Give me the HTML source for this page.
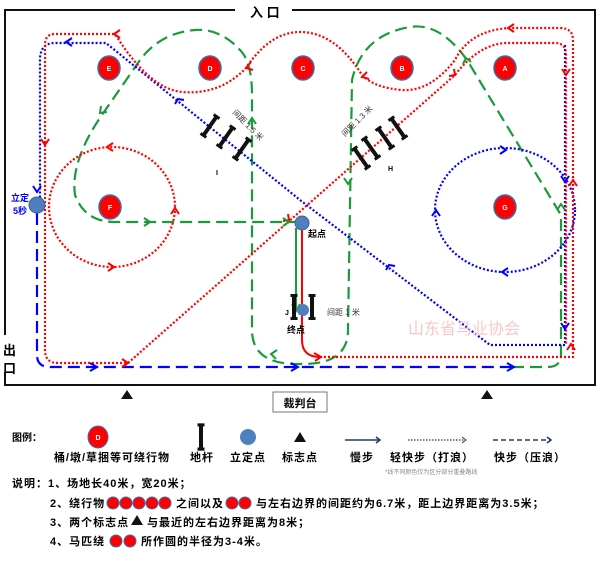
<!DOCTYPE html>
<html><head><meta charset="utf-8"><style>
body{margin:0;background:#fff;width:600px;height:558px;overflow:hidden}
svg text{font-family:"Liberation Sans","Noto Sans CJK SC",sans-serif}
</style></head><body>
<svg width="600" height="558" viewBox="0 0 600 558" xmlns="http://www.w3.org/2000/svg">
<defs>
<g id="pole"><rect x="-2" y="-11" width="4" height="22" fill="#111"/><rect x="-3.5" y="-13" width="7" height="3" fill="#111"/><rect x="-3.5" y="10" width="7" height="3" fill="#111"/></g>
</defs>
<g stroke="#111" stroke-width="2" fill="none">
<path d="M235,10 H5 V335"/><path d="M292,10 H595 V385 H5 V372"/>
</g>
<text x="250" y="17" font-size="13" font-weight="bold">入 口</text>
<text x="3" y="355" font-size="13" font-weight="bold">出</text>
<text x="3" y="373" font-size="13" font-weight="bold">口</text>

<g stroke="#1a9b3a" stroke-width="2.2" fill="none" stroke-dasharray="12,6">
<path d="M512,367 H548 Q561,367 561,354 V215 L467,60 Q440,22 410,27 Q362,35 352,80 L348,330 Q348,365 300,364 Q252,365 252,330 V95 Q252,62 240,50 Q220,28 195,30 Q160,33 140,60 L104,112 Q70,160 75,195 Q85,222 115,222 H296"/>
</g>
<path d="M37,213 V355 Q37,367 50,367 H512" stroke="blue" stroke-width="2.2" fill="none" stroke-dasharray="12,6"/>
<g stroke="blue" stroke-width="2.2" fill="none" stroke-dasharray="2,2">
<path d="M565,45 V345 H490 L300,200 L106,43 H55 Q40,43 40,60 V198"/>
<ellipse cx="505" cy="210" rx="70" ry="62"/>
</g>
<g stroke="red" stroke-width="2.2" fill="none" stroke-dasharray="2,2">
<path d="M320,357 H573 V40 Q573,28 560,28 H510 Q470,30 455,60 Q430,92 402,90 Q375,88 362,75 Q335,32 300,32 Q270,32 246,68 Q220,95 183,92 Q150,90 115,34 H55 Q45,34 45,45 V350 Q45,363 58,363 H128 L455,75 Q478,45 505,43 H555 Q566,43 566,55 V345"/>
<ellipse cx="112" cy="207" rx="63" ry="60"/>
</g>
<g fill="none" stroke-width="2">
<path d="M120,30 l-6,4 l6,4" stroke="red"/><path d="M251,62 l-5,6 l7,2" stroke="red"/>
<path d="M367,72 l-5,5 l7,2" stroke="red"/><path d="M449,76 l6,-1 l-1,-6" stroke="red"/>
<path d="M514,24 l-6,4 l6,4" stroke="red"/><path d="M41,139 l4,6 l4,-6" stroke="red"/>
<path d="M562,69 l4,6 l4,-6" stroke="red"/><path d="M569,186 l4,-6 l4,6" stroke="red"/>
<path d="M567,350 l4,-6 l4,6" stroke="red"/><path d="M113,143 l-6,4 l6,4" stroke="red"/>
<path d="M171,214 l4,-6 l4,6" stroke="red"/><path d="M108,263 l6,4 l-6,4" stroke="red"/>
<path d="M122,359 l6,4 l-6,4" stroke="red"/><path d="M283,221 l6,-1 l-1,-6" stroke="red"/>
<path d="M314,353 l7,4 l-6,4" stroke="red"/>
<path d="M72,38 l-6,4 l6,4" stroke="blue"/><path d="M33,186 l4,6 l4,-6" stroke="blue"/>
<path d="M175,104 l3,-5 l6,1" stroke="blue"/><path d="M386,270 l3,-5 l6,1" stroke="blue"/>
<path d="M500,146 l6,4 l-6,4" stroke="blue"/><path d="M432,216 l4,-6 l4,6" stroke="blue"/>
<path d="M508,268 l-6,4 l6,4" stroke="blue"/><path d="M561,176 l4,6 l4,-6" stroke="blue"/>
<path d="M561,323 l4,6 l4,-6" stroke="blue"/>
<path d="M90,363 l7,4 l-7,4" stroke="blue"/><path d="M291,363 l7,4 l-7,4" stroke="blue"/><path d="M507,363 l7,4 l-7,4" stroke="blue"/>
<path d="M248,124 l4,-6 l4,6" stroke="#1a9b3a"/><path d="M344,178 l4,6 l4,-6" stroke="#1a9b3a"/>
<path d="M557,210 l4,-6 l4,6" stroke="#1a9b3a"/><path d="M463,64 l3,-6 l5,4" stroke="#1a9b3a"/>
<path d="M101,106 l-1,7 l7,-1" stroke="#1a9b3a"/><path d="M144,218 l6,4 l-6,4" stroke="#1a9b3a"/>
<path d="M283,218 l6,4 l-6,4" stroke="#1a9b3a"/><path d="M277,350 l-6,4 l5,5" stroke="#1a9b3a"/>
</g>
<path d="M296,228 V310" stroke="#1a9b3a" stroke-width="2" fill="none"/>
<path d="M292,304 l4,7 l4,-7" stroke="#1a9b3a" stroke-width="2" fill="none"/>
<path d="M302,228 V340 Q302,357 320,357" stroke="red" stroke-width="2" fill="none"/>

<g fill="red" stroke="#3a6fb0" stroke-width="1.5">
<ellipse cx="109" cy="68" rx="11" ry="12"/><ellipse cx="210" cy="68" rx="11" ry="12"/><ellipse cx="303" cy="68" rx="11" ry="12"/><ellipse cx="402" cy="68" rx="11" ry="12"/><ellipse cx="505" cy="68" rx="11" ry="12"/>
<ellipse cx="110" cy="207" rx="11" ry="12"/><ellipse cx="505" cy="207" rx="11" ry="12"/>
</g>
<g fill="#fff" font-size="7" font-weight="bold" text-anchor="middle">
<text x="109" y="71">E</text><text x="210" y="71">D</text><text x="303" y="71">C</text><text x="402" y="71">B</text><text x="505" y="71">A</text><text x="110" y="210">F</text><text x="505" y="210">G</text>
</g>
<g fill="#4f7fbf" stroke="#3a6490"><circle cx="37" cy="205" r="8"/><circle cx="302" cy="223" r="7"/></g>
<text x="11" y="201" font-size="9" font-weight="bold" fill="blue">立定</text>
<text x="13" y="214" font-size="9" font-weight="bold" fill="blue">5秒</text>
<text x="308" y="237" font-size="9" font-weight="bold">起点</text>
<use href="#pole" transform="translate(210,126) rotate(35)"/>
<use href="#pole" transform="translate(226,137) rotate(35)"/>
<use href="#pole" transform="translate(242,149) rotate(35)"/>
<text x="216" y="175" font-size="7" font-weight="bold">I</text>
<text x="232" y="113" font-size="8" fill="#333" transform="rotate(45 232 113)">间距 1.5 米</text>
<use href="#pole" transform="translate(398,128) rotate(-35)"/>
<use href="#pole" transform="translate(385,138) rotate(-35)"/>
<use href="#pole" transform="translate(371,148) rotate(-35)"/>
<use href="#pole" transform="translate(361,158) rotate(-35)"/>
<text x="388" y="171" font-size="7" font-weight="bold">H</text>
<text x="345" y="137" font-size="8" fill="#333" transform="rotate(-45 345 137)">间距 1.3 米</text>
<use href="#pole" transform="translate(294,307)"/><use href="#pole" transform="translate(312,307)"/>
<circle cx="303" cy="310" r="6" fill="#4f7fbf"/>
<text x="285" y="315" font-size="7" font-weight="bold">J</text>
<text x="327" y="315" font-size="8" fill="#333">间距 1 米</text>
<text x="287" y="333" font-size="9" font-weight="bold">终点</text>
<text x="408" y="334" font-size="16" fill="#f8c8c8">山东省马业协会</text>
<path d="M121,399 L127,390 L133,399Z M481,399 L487,390 L493,399Z" fill="#111"/>
<rect x="273" y="392" width="54" height="20" fill="#fff" stroke="#777"/>
<text x="300" y="407" font-size="11" font-weight="bold" text-anchor="middle">裁判台</text>
<text x="12" y="441" font-size="10" font-weight="bold">图例：</text>
<ellipse cx="98" cy="437" rx="10" ry="11" fill="red" stroke="#3a6fb0"/><text x="98" y="440" font-size="7" fill="#fff" text-anchor="middle" font-weight="bold">D</text>
<use href="#pole" transform="translate(201,437) scale(1,1.05)"/>
<circle cx="248" cy="437" r="8" fill="#4f7fbf"/>
<path d="M294,442 L300,432 L306,442Z" fill="#111"/>
<path d="M345,440 H380" stroke="#1f3a6a" stroke-width="1.5"/><path d="M376,437 l4,3 l-4,3" stroke="#1f3a6a" fill="none" stroke-width="1.5"/>
<path d="M408,440 H466" stroke="#1f3a6a" stroke-width="1.2" stroke-dasharray="1.5,1.5"/><path d="M462,437 l4,3 l-4,3" stroke="#1f3a6a" fill="none"/>
<path d="M493,440 H550" stroke="#1f3a6a" stroke-width="1.5" stroke-dasharray="5,3"/><path d="M547,437 l4,3 l-4,3" stroke="#1f3a6a" fill="none" stroke-width="1.5"/>
<g font-size="11" font-weight="bold" text-anchor="middle" letter-spacing="1">
<text x="112" y="461">桶/墩/草捆等可绕行物</text><text x="202" y="461">地杆</text><text x="248" y="461">立定点</text><text x="300" y="461">标志点</text><text x="362" y="461">慢步</text><text x="432" y="461">轻快步（打浪）</text><text x="530" y="461">快步（压浪）</text>
</g>
<text x="385" y="474" font-size="6" fill="#888">*线不同颜色仅为区分部分重叠路线</text>
<g font-size="11" font-weight="bold" letter-spacing="1">
<text x="12" y="487">说明：1、场地长40米，宽20米；</text>
<text x="50" y="507">2、绕行物</text>
<g fill="red" stroke="#3a6fb0"><circle cx="113" cy="503" r="6"/><circle cx="126" cy="503" r="6"/><circle cx="139" cy="503" r="6"/><circle cx="152" cy="503" r="6"/><circle cx="165" cy="503" r="6"/><circle cx="232" cy="503" r="6"/><circle cx="245" cy="503" r="6"/></g>
<text x="176" y="507">之间以及</text>
<text x="256" y="507">与左右边界的间距约为6.7米，距上边界距离为3.5米；</text>
<text x="50" y="526">3、两个标志点</text><path d="M131,525 L137,515 L143,525Z" fill="#111"/><text x="147" y="526">与最近的左右边界距离为8米；</text>
<text x="50" y="545">4、马匹绕</text>
<g fill="red" stroke="#3a6fb0"><circle cx="116" cy="541" r="6"/><circle cx="130" cy="541" r="6"/></g>
<text x="141" y="545">所作圆的半径为3-4米。</text>
</g>
</svg>
</body></html>
